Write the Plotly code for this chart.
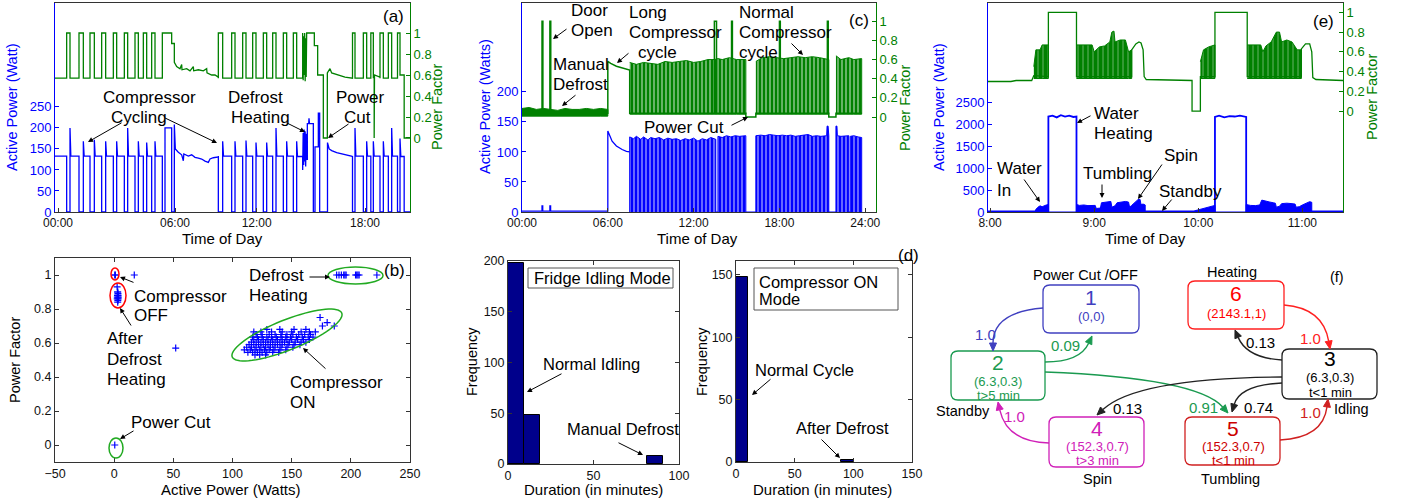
import math
import plotly.graph_objects as go

W, H = 1401, 502
FONT = "Liberation Sans, Arial, Helvetica, sans-serif"
BLUE = "#0000FF"
GREEN = "#008000"

# ---------------------------------------------------------------- data (a)
# fridge trace, axis in record hours; compressor OFF intervals
a_tick_pos = [0.18, 7.2, 12.1, 18.6]
a_tick_text = ["00:00", "06:00", "12:00", "18:00"]
a_off_start = [0.70, 1.44, 2.10, 2.80, 3.50, 4.16, 4.80, 5.30, 5.80, 6.44, 9.80, 10.60,
               11.26, 11.86, 12.50, 13.06, 13.70, 14.30, 17.85, 18.50, 18.95, 19.50, 20.00, 20.55]
a_off_end = [0.90, 1.70, 2.36, 3.04, 3.70, 4.36, 5.00, 5.50, 6.00, 6.60, 10.06, 10.80,
             11.46, 12.06, 12.70, 13.26, 13.90, 14.50, 18.00, 18.70, 19.10, 19.70, 20.20, 20.70]
a_spike = [200, 168, 172, 168, 168, 200, 168, 165, 168, 200, 168, 168,
           170, 165, 165, 200, 168, 168, 200, 168, 168, 168, 200, 175]
a_base_power = 133
a_on_pf = 0.57
a_power_body = {
    9: [(6.60, 200), (7.00, 200), (7.00, 0), (7.16, 0), (7.16, 208), (7.22, 150), (7.40, 142),
        (7.60, 136), (7.70, 122), (7.73, 138), (8.00, 133), (8.20, 136), (8.40, 130), (8.60, 128),
        (8.80, 126), (9.00, 121), (9.20, 118), (9.30, 126), (9.50, 129), (9.80, 131)],
    17: [(14.50, 168), (14.55, 132), (14.86, 132), (14.86, 100), (14.89, 188), (14.92, 112),
         (14.95, 196), (14.98, 120), (15.01, 192), (15.04, 108), (15.07, 186), (15.10, 125),
         (15.14, 125), (15.14, 210), (15.22, 210), (15.24, 223), (15.27, 210), (15.50, 210),
         (15.50, 0), (15.60, 0), (15.60, 155), (15.80, 155), (15.80, 235), (15.88, 235),
         (15.88, 0), (16.35, 0), (16.35, 165), (16.45, 150), (16.60, 146), (16.90, 141),
         (17.20, 138), (17.50, 134), (17.85, 132)],
    23: [(20.70, 175), (20.75, 132), (20.95, 132), (20.95, 0), (21.30, 0)],
}
a_pf_body = {
    9: [(6.60, 1.0), (7.00, 1.0), (7.00, 0.9), (7.16, 0.9), (7.16, 0.72), (7.30, 0.68), (7.50, 0.66),
        (7.60, 0.70), (7.62, 0.65), (7.90, 0.66), (8.10, 0.64), (8.30, 0.68), (8.32, 0.64),
        (8.60, 0.65), (8.90, 0.64), (9.10, 0.66), (9.12, 0.62), (9.40, 0.60), (9.60, 0.60), (9.80, 0.58)],
    17: [(14.50, 0.57), (14.86, 0.57), (14.86, 1.0), (14.89, 0.55), (14.92, 0.97), (14.95, 0.60),
         (14.98, 1.0), (15.01, 0.54), (15.04, 0.95), (15.07, 0.58), (15.10, 1.0), (15.56, 1.0),
         (15.56, 0.88), (15.76, 0.88), (15.76, 0.60), (16.10, 0.60), (16.10, 0.0), (16.34, 0.0),
         (16.34, 0.62), (16.50, 0.66), (16.60, 0.62), (17.00, 0.60), (17.40, 0.58), (17.85, 0.57)],
    20: [(19.10, 0.57), (19.15, 0.60), (19.15, 0.0), (19.17, 0.0), (19.17, 0.60), (19.50, 0.58)],
    23: [(20.70, 0.60), (20.95, 0.60), (20.95, 0.0), (21.30, 0.0)],
}

# ---------------------------------------------------------------- data (c)
c_tick_pos = [0, 6, 12, 18, 24]
c_tick_text = ["00:00", "06:00", "12:00", "18:00", "24:00"]
c_idle_time = [0, 1.40, 1.40, 1.45, 1.45, 1.95, 1.95, 2.00, 2.00, 6.00, 6.00, 6.10, 6.30, 6.60, 7.00, 7.30, 7.53]
c_idle_power = [1.5, 1.5, 10, 10, 1.5, 1.5, 10, 10, 1.5, 1.5, 135, 130, 118, 110, 104, 101, 100]
c_on_time = [7.53, 7.53, 7.8, 8.0, 8.3, 8.5, 8.8, 9.0, 9.3, 9.6, 9.9, 10.2, 10.5, 10.8, 11.1, 11.4,
             11.7, 12.0, 12.3, 12.6, 12.9, 13.2, 13.55, 13.55, 13.70, 13.70, 14.0, 14.3, 14.6, 14.9,
             15.2, 15.65, 15.65, 16.35, 16.35, 16.7, 17.0, 17.3, 17.6, 17.9, 18.2, 18.5, 18.8, 19.1,
             19.4, 19.7, 20.0, 20.3, 20.6, 20.9, 21.2, 21.30, 21.33, 21.40, 21.45, 21.45, 21.95,
             21.95, 22.02, 22.05, 22.3, 22.6, 22.85, 22.85, 22.95, 22.95, 23.2, 23.5, 23.75, 23.75]
c_on_power = [0, 125, 122, 126, 121, 125, 120, 124, 122, 124, 120, 123, 121, 122, 119, 122,
              120, 123, 118, 122, 120, 124, 121, 0, 0, 126, 124, 127, 125, 127,
              126, 127, 0, 0, 127, 128, 127, 129, 128, 127, 128, 127, 128, 126,
              127, 128, 129, 126, 127, 126, 127, 127, 143, 143, 127, 0, 0,
              143, 143, 127, 126, 127, 127, 0, 0, 126, 127, 125, 124, 0]
c_pf_time = [0.00, 1.40, 1.40, 1.46, 1.46, 1.95, 1.95, 2.01, 2.01, 6.00, 6.00, 6.20, 6.60, 7.00,
             7.53, 7.53, 13.45, 13.45, 13.60, 13.60, 14.65, 14.65, 14.71, 14.71, 15.65, 15.65,
             16.35, 16.35, 18.00, 18.00, 18.06, 18.06, 21.35, 21.35, 21.41, 21.41, 21.45, 21.45,
             21.95, 21.95, 23.75]
c_pf_value = [0.04, 0.04, 1.0, 1.0, 0.04, 0.04, 1.0, 1.0, 0.04, 0.04, 0.58, 0.56, 0.53, 0.51,
              0.49, 0.04, 0.04, 1.0, 1.0, 0.04, 0.04, 1.0, 1.0, 0.04, 0.04, 0.0,
              0.0, 0.04, 0.04, 1.0, 1.0, 0.04, 0.04, 1.0, 1.0, 0.04, 0.04, 0.0,
              0.0, 0.04, 0.04]
c_idle_pf_time = [0, 0.5, 1.0, 1.5, 2.0, 2.5, 3.0, 3.5, 4.0, 4.5, 5.0, 5.5, 6.0]
c_idle_pf_top = [0.09, 0.10, 0.08, 0.09, 0.08, 0.07, 0.09, 0.08, 0.08, 0.09, 0.08, 0.09, 0.08]
c_idle_pf_low = 0.01
c_band1_time = [7.53, 8.0, 8.5, 9.0, 9.5, 10.0, 10.5, 11.0, 11.5, 12.0, 12.5, 13.0, 13.45, 13.7, 14.0, 14.5, 15.0, 15.65]
c_band1_top = [0.57, 0.55, 0.57, 0.56, 0.55, 0.58, 0.57, 0.58, 0.59, 0.57, 0.58, 0.60, 0.60, 0.61, 0.60, 0.62, 0.60, 0.60]
c_band2_time = [16.35, 16.8, 17.3, 17.8, 18.3, 18.8, 19.3, 19.8, 20.3, 20.8, 21.3, 21.45]
c_band2_top = [0.58, 0.62, 0.63, 0.62, 0.61, 0.62, 0.63, 0.62, 0.63, 0.62, 0.60, 0.60]
c_band3_time = [21.95, 22.3, 22.85, 23.2, 23.75]
c_band3_top = [0.64, 0.60, 0.62, 0.60, 0.61]
c_band_low = 0.03

# ---------------------------------------------------------------- data (e)
e_tick_pos = [8, 9, 10, 11]
e_tick_text = ["8:00", "9:00", "10:00", "11:00"]
e_power_time = [7.98, 8.20, 8.43, 8.56, 8.56, 8.60, 8.64, 8.68, 8.72, 8.76, 8.80, 8.83, 8.83,
                9.95, 10.16, 10.16, 10.20, 10.25, 10.30, 10.35, 10.40, 10.46, 10.46, 11.39]
e_power_value = [12, 14, 15, 15, 2170, 2190, 2150, 2200, 2170, 2190, 2160, 2170, 12,
                 14, 14, 2160, 2190, 2150, 2180, 2170, 2190, 2160, 12, 12]
e_motor_time = [8.43, 8.44, 8.46, 8.48, 8.50, 8.52, 8.54, 8.56, 8.56,
                8.83, 8.83, 8.86, 8.90, 8.94, 8.98, 9.01, 9.02, 9.06, 9.07, 9.10, 9.13, 9.16, 9.17,
                9.20, 9.22, 9.26, 9.30, 9.33, 9.34, 9.36, 9.39, 9.42, 9.44, 9.45, 9.47, 9.49, 9.49,
                9.95, 9.97, 10.00, 10.04, 10.08, 10.12, 10.16, 10.16,
                10.46, 10.46, 10.50, 10.55, 10.59, 10.61, 10.64, 10.68, 10.72, 10.74, 10.75, 10.78,
                10.80, 10.85, 10.90, 10.93, 10.94, 10.97, 11.00, 11.04, 11.07, 11.09, 11.09]
e_motor_power = [0, 60, 110, 140, 120, 150, 160, 170, 0,
                 0, 170, 150, 160, 145, 155, 150, 80, 90, 210, 220, 235, 240, 110,
                 140, 210, 230, 240, 225, 110, 150, 220, 280, 290, 170, 180, 160, 0,
                 0, 30, 50, 80, 110, 130, 150, 0,
                 0, 170, 150, 145, 160, 270, 260, 230, 210, 200, 110, 130,
                 190, 200, 190, 180, 110, 120, 160, 200, 235, 220, 0]
e_pf_time = [7.98, 8.20, 8.25, 8.40, 8.42, 8.56, 8.56, 8.83, 8.83, 9.36, 9.36, 9.40, 9.43, 9.45,
             9.47, 9.48, 9.50, 9.94, 9.94, 10.02, 10.02, 10.16, 10.16, 10.47, 10.47, 10.99, 10.99,
             11.03, 11.07, 11.09, 11.10, 11.13, 11.39]
e_pf_value = [0.30, 0.30, 0.31, 0.31, 0.36, 0.35, 1.0, 1.0, 0.35, 0.35, 0.62, 0.68, 0.70, 0.69,
              0.62, 0.35, 0.32, 0.31, 0.0, 0.0, 0.35, 0.35, 1.0, 1.0, 0.35, 0.35, 0.63,
              0.68, 0.68, 0.60, 0.34, 0.32, 0.31]
e_band_time = [[8.42, 8.44, 8.48, 8.50, 8.56],
               [8.83, 8.98, 9.00, 9.05, 9.10, 9.15, 9.17, 9.19, 9.20, 9.25, 9.30, 9.33, 9.36],
               [10.02, 10.05, 10.10, 10.16],
               [10.47, 10.60, 10.62, 10.65, 10.70, 10.75, 10.78, 10.80, 10.85, 10.90, 10.95, 10.99]]
e_band_top = [[0.45, 0.62, 0.62, 0.67, 0.67],
              [0.67, 0.67, 0.60, 0.65, 0.66, 0.70, 0.80, 0.81, 0.70, 0.72, 0.72, 0.60, 0.62],
              [0.50, 0.62, 0.65, 0.67],
              [0.67, 0.67, 0.60, 0.66, 0.70, 0.80, 0.80, 0.70, 0.72, 0.70, 0.62, 0.62]]
e_band_low = 0.33

# ---------------------------------------------------------------- data (b)
b_off_power = [0.5, 1.0, 17.0]
b_off_pf = [1.0, 1.0, 1.0]
b_after_power = [2.5, 3.0, 3.2, 2.8, 3.5, 2.6, 3.1, 3.3, 2.9, 3.0, 3.4, 2.7]
b_after_pf = [0.93, 0.90, 0.89, 0.88, 0.87, 0.86, 0.85, 0.88, 0.90, 0.84, 0.86, 0.87]
b_misc_power = [52.0, 0.5]
b_misc_pf = [0.57, 0.0]
b_defrost_power = [188, 190, 192, 194, 195, 196, 204, 205, 206, 207, 222]
b_defrost_pf = [1.0, 1.0, 1.0, 1.0, 1.0, 1.0, 1.0, 1.0, 1.0, 1.0, 1.0]
b_on_rows = {
    0.530: [119, 123, 128],
    0.545: [113, 117, 121, 125, 129, 134, 139],
    0.560: [110, 115, 119, 123, 127, 131, 135, 140, 145],
    0.575: [112, 116, 120, 124, 128, 132, 136, 141, 146, 151],
    0.590: [114, 118, 122, 126, 130, 134, 138, 142, 147, 152, 157],
    0.605: [116, 120, 124, 128, 132, 136, 140, 144, 148, 153, 158, 162],
    0.620: [118, 122, 126, 130, 134, 138, 142, 146, 150, 155, 160, 165],
    0.635: [117, 121, 125, 129, 133, 137, 141, 145, 149, 154, 159, 164, 168],
    0.650: [120, 125, 131, 136, 141, 146, 151, 156, 161, 166],
    0.665: [118, 124, 133, 142, 150, 158, 165, 170],
    0.680: [129, 140, 152, 162],
    0.700: [176, 186],
    0.720: [180],
    0.750: [174],
}

# ---------------------------------------------------------------- data (d)
d1_centers = [4.65, 13.95, 86.05]
d1_counts = [198, 48, 8]
d1_width = 9.3
d2_centers = [5.25, 94.95]
d2_counts = [148, 2]
d2_width = 10.5


# ---------------------------------------------------------------- helpers
def xdom(l, r):
    return [l / W, r / W]


def ydom(t, b):
    return [1 - b / H, 1 - t / H]


def P(x, y):
    return x / W, 1 - y / H


def build_a():
    pt, pp, gt, gp = [0.0], [a_base_power], [0.0], [a_on_pf]
    for i, (s, e, sp) in enumerate(zip(a_off_start, a_off_end, a_spike)):
        pt += [s, s, e]
        pp += [a_base_power, 0, 0]
        body = a_power_body.get(i, [(e, sp), (e + 0.05, a_base_power)])
        pt += [b[0] for b in body]
        pp += [b[1] for b in body]
        gt += [s, s, e]
        gp += [a_on_pf, 1.0, 1.0]
        gbody = a_pf_body.get(i, [(e, a_on_pf)])
        gt += [b[0] for b in gbody]
        gp += [b[1] for b in gbody]
    return pt, pp, gt, gp


traces = []
# (a)
a_t, a_p, ag_t, ag_p = build_a()
traces.append(go.Scatter(x=a_t, y=a_p, mode="lines", line=dict(color=BLUE, width=1.3),
                         xaxis="x", yaxis="y"))
traces.append(go.Scatter(x=ag_t, y=ag_p, mode="lines", line=dict(color=GREEN, width=1.3),
                         xaxis="x", yaxis="y2"))

# (c)
traces.append(go.Scatter(x=c_idle_time, y=c_idle_power, mode="lines", line=dict(color=BLUE, width=1.3),
                         xaxis="x2", yaxis="y3"))
traces.append(go.Scatter(x=c_on_time, y=c_on_power, mode="lines", line=dict(color=BLUE, width=1),
                         fill="tozeroy", fillcolor="white",
                         fillpattern=dict(shape="|", fgcolor=BLUE, bgcolor="white", size=4,
                                          solidity=0.8, fgopacity=1),
                         xaxis="x2", yaxis="y3"))
traces.append(go.Scatter(x=c_idle_pf_time + c_idle_pf_time[::-1],
                         y=c_idle_pf_top + [c_idle_pf_low] * len(c_idle_pf_time), mode="lines",
                         fill="toself", fillcolor=GREEN, line=dict(color=GREEN, width=1),
                         xaxis="x2", yaxis="y4"))
for bt, btop in [(c_band1_time, c_band1_top), (c_band2_time, c_band2_top), (c_band3_time, c_band3_top)]:
    traces.append(go.Scatter(x=bt + bt[::-1], y=btop + [c_band_low] * len(bt), mode="lines",
                             fill="toself", fillcolor="white",
                             fillpattern=dict(shape="|", fgcolor=GREEN, bgcolor="white", size=4,
                                              solidity=0.8, fgopacity=1),
                             line=dict(color=GREEN, width=1), xaxis="x2", yaxis="y4"))
traces.append(go.Scatter(x=c_pf_time, y=c_pf_value, mode="lines", line=dict(color=GREEN, width=1.5),
                         xaxis="x2", yaxis="y4"))

# (e)
traces.append(go.Scatter(x=e_motor_time, y=e_motor_power, mode="lines", fill="tozeroy",
                         fillcolor=BLUE, line=dict(color=BLUE, width=1), xaxis="x3", yaxis="y5"))
traces.append(go.Scatter(x=e_power_time, y=e_power_value, mode="lines", line=dict(color=BLUE, width=1.8),
                         xaxis="x3", yaxis="y5"))
for bt, btop in zip(e_band_time, e_band_top):
    traces.append(go.Scatter(x=bt + bt[::-1], y=btop + [e_band_low] * len(bt), mode="lines",
                             fill="toself", fillcolor="white",
                             fillpattern=dict(shape="|", fgcolor=GREEN, bgcolor="white", size=5,
                                              solidity=0.92, fgopacity=1),
                             line=dict(color=GREEN, width=1), xaxis="x3", yaxis="y6"))
traces.append(go.Scatter(x=e_pf_time, y=e_pf_value, mode="lines", line=dict(color=GREEN, width=1.3),
                         xaxis="x3", yaxis="y6"))

# (b)
b_on_power = [w for pf in b_on_rows for w in b_on_rows[pf]]
b_on_pf = [pf for pf in b_on_rows for w in b_on_rows[pf]]
bx = b_off_power + b_after_power + b_misc_power + b_defrost_power + b_on_power
by = b_off_pf + b_after_pf + b_misc_pf + b_defrost_pf + b_on_pf
traces.append(go.Scatter(x=bx, y=by, mode="markers",
                         marker=dict(symbol="cross-thin", size=5, color=BLUE, line=dict(color=BLUE, width=1.2)),
                         xaxis="x4", yaxis="y7"))

# (d)
traces.append(go.Bar(x=d1_centers, y=d1_counts, width=[d1_width] * len(d1_centers),
                     marker=dict(color="#00008B", line=dict(color="black", width=1)),
                     xaxis="x5", yaxis="y8"))
traces.append(go.Bar(x=d2_centers, y=d2_counts, width=[d2_width] * len(d2_centers),
                     marker=dict(color="#00008B", line=dict(color="black", width=1)),
                     xaxis="x6", yaxis="y9"))

fig = go.Figure(data=traces)

TF = dict(family=FONT, size=12.5, color="#111")
TF_TOP = dict(family=FONT, size=12, color="#111")


def axis(**kw):
    base = dict(showgrid=False, zeroline=False, showline=True, ticks="inside", ticklen=4,
                tickfont=TF, linewidth=1, linecolor="#333", tickcolor="#333", automargin=False)
    base.update(kw)
    return base


def left_y(dom, anchor, rng, vals):
    return axis(domain=ydom(*dom), anchor=anchor, range=rng, tickvals=vals, linecolor=BLUE,
                tickcolor=BLUE, tickfont=dict(family=FONT, size=13, color=BLUE))


def right_y(over, anchor, rng):
    return axis(overlaying=over, side="right", anchor=anchor, range=rng,
                tickvals=[0, 0.2, 0.4, 0.6, 0.8, 1], ticktext=["0", "0.2", "0.4", "0.6", "0.8", "1"],
                linecolor=GREEN, tickcolor=GREEN, tickfont=dict(family=FONT, size=13, color=GREEN))


pf_ticks = [0, 0.2, 0.4, 0.6, 0.8, 1]
pf_text = ["0", "0.2", "0.4", "0.6", "0.8", "1"]
fig.update_layout(
    width=W, height=H, margin=dict(l=0, r=0, t=0, b=0, pad=0, autoexpand=False),
    plot_bgcolor="white", paper_bgcolor="white", showlegend=False, font=dict(family=FONT), bargap=0,
    xaxis=axis(domain=xdom(55, 410), anchor="y", range=[0, 21.3], tickvals=a_tick_pos,
               ticktext=a_tick_text, mirror=True, tickfont=TF_TOP),
    yaxis=left_y((3, 212), "x", [0, 497], [0, 50, 100, 150, 200, 250]),
    yaxis2=right_y("y", "x", [-0.705, 1.286]),
    xaxis2=axis(domain=xdom(522, 876), anchor="y3", range=[0, 24.75], tickvals=c_tick_pos,
                ticktext=c_tick_text, mirror=True, tickfont=TF_TOP),
    yaxis3=left_y((3, 212), "x2", [0, 348], [0, 50, 100, 150, 200]),
    yaxis4=right_y("y3", "x2", [-0.99, 1.19]),
    xaxis3=axis(domain=xdom(988, 1343), anchor="y5", range=[7.98, 11.39], tickvals=e_tick_pos,
                ticktext=e_tick_text, mirror=True, tickfont=TF_TOP),
    yaxis5=left_y((3, 212), "x3", [0, 4750], [0, 500, 1000, 1500, 2000, 2500]),
    yaxis6=right_y("y5", "x3", [-1.02, 1.094]),
    xaxis4=axis(domain=xdom(55, 410), anchor="y7", range=[-50, 250], dtick=50, mirror="ticks"),
    yaxis7=axis(domain=ydom(258, 462), anchor="x4", range=[-0.1, 1.1], tickvals=pf_ticks,
                ticktext=pf_text, mirror="ticks"),
    xaxis5=axis(domain=xdom(508, 679), anchor="y8", range=[0, 100], tickvals=[0, 50, 100], mirror="ticks"),
    yaxis8=axis(domain=ydom(261, 464), anchor="x5", range=[0, 200], dtick=50, mirror="ticks"),
    xaxis6=axis(domain=xdom(736, 912), anchor="y9", range=[0, 150], dtick=50, mirror="ticks"),
    yaxis9=axis(domain=ydom(261, 462), anchor="x6", range=[0, 161], tickvals=[0, 50, 100, 150], mirror="ticks"),
)

ann = []
shapes = []


def txt(x, y, s, size=17, color="black", anchor="left", angle=0):
    X, Y = P(x, y)
    ann.append(dict(x=X, y=Y, xref="paper", yref="paper", text=s, showarrow=False,
                    xanchor=anchor, yanchor="middle", textangle=angle, borderpad=0,
                    font=dict(family=FONT, size=size, color=color)))


def ytitle(x, y, s, color="black", size=14.5):
    txt(x, y, s, size=size, color=color, anchor="center", angle=-90)


def arr(tx, ty, hx, hy, color="black"):
    X, Y = P(hx, hy)
    ann.append(dict(x=X, y=Y, xref="paper", yref="paper", ax=tx - hx, ay=ty - hy,
                    axref="pixel", ayref="pixel", text="", showarrow=True, arrowhead=2,
                    arrowsize=1, arrowwidth=1, arrowcolor=color, standoff=0, startstandoff=0))


# (a)
txt(102, 97, "Compressor"); txt(110, 117, "Cycling")
arr(123, 122, 88, 142); arr(163, 117, 217, 143)
txt(227, 97, "Defrost"); txt(230, 117, "Heating"); arr(285, 122, 305, 132)
txt(335, 97, "Power"); txt(343, 117, "Cut"); arr(350, 123, 328, 138)
txt(382, 17, "(a)")
txt(222, 238, "Time of Day", size=15, anchor="center")
ytitle(12, 107, "Active Power (Watt)", BLUE)
ytitle(437, 107, "Power Factor", GREEN)
# (c)
txt(570, 11, "Door"); txt(570, 31, "Open"); arr(568, 28, 553, 39)
txt(552, 64, "Manual"); txt(552, 85, "Defrost"); arr(577, 94, 562, 106)
txt(628, 13, "Long"); txt(628, 33, "Compressor"); txt(637, 52, "cycle"); arr(630, 52, 617, 63)
txt(738, 13, "Normal"); txt(738, 33, "Compressor"); txt(738, 52, "cycle"); arr(790, 42, 803, 55)
txt(643, 127, "Power Cut"); arr(730, 126, 748, 117)
txt(848, 21, "(c)")
txt(697, 238, "Time of Day", size=15, anchor="center")
ytitle(485, 107, "Active Power (Watts)", BLUE)
ytitle(905, 108, "Power Factor", GREEN)
# (e)
txt(996, 169, "Water"); txt(996, 190, "In"); arr(1023, 178, 1040, 202)
txt(1093, 113, "Water"); txt(1093, 133, "Heating"); arr(1092, 115, 1077, 123)
txt(1082, 173, "Tumbling"); arr(1102, 183, 1102, 198)
txt(1163, 156, "Spin"); arr(1163, 163, 1138, 199)
txt(1158, 191, "Standby"); arr(1173, 198, 1162, 211)
txt(1312, 22, "(e)")
txt(1145, 238, "Time of Day", size=15, anchor="center")
ytitle(939, 107, "Active Power (Watt)", BLUE)
ytitle(1372, 97, "Power Factor", GREEN)
# (b)
txt(248, 275, "Defrost"); txt(248, 295, "Heating"); arr(308, 277, 330, 277)
txt(383, 270, "(b)")
txt(133, 296, "Compressor"); txt(133, 315, "OFF"); arr(135, 283, 120, 277)
txt(106, 338, "After"); txt(106, 359, "Defrost"); txt(106, 379, "Heating"); arr(132, 327, 120, 308)
txt(289, 382, "Compressor"); txt(289, 402, "ON"); arr(327, 370, 303, 348)
txt(130, 422, "Power Cut"); arr(135, 430, 120, 439)
txt(230, 489, "Active Power (Watts)", size=15, anchor="center")
ytitle(15, 360, "Power Factor")
# (d)
x0, y0 = P(528, 268); x1, y1 = P(673, 288)
shapes.append(dict(type="rect", xref="paper", yref="paper", x0=x0, y0=y0, x1=x1, y1=y1,
                   line=dict(color="#555", width=1), fillcolor="white", layer="above"))
x0, y0 = P(754, 268); x1, y1 = P(898, 310)
shapes.append(dict(type="rect", xref="paper", yref="paper", x0=x0, y0=y0, x1=x1, y1=y1,
                   line=dict(color="#555", width=1), fillcolor="white", layer="above"))
txt(533, 278, "Fridge Idling Mode", size=16.5)
txt(542, 364, "Normal Idling", size=16.5); arr(563, 373, 527, 392)
txt(566, 429, "Manual Defrost", size=16.5); arr(617, 442, 643, 455)
txt(758, 282, "Compressor ON", size=16.5); txt(758, 299, "Mode", size=16.5)
txt(754, 370, "Normal Cycle", size=16.5); arr(772, 378, 752, 395)
txt(795, 428, "After Defrost", size=16.5); arr(820, 438, 840, 458)
txt(897, 255, "(d)")
txt(593, 489, "Duration (in minutes)", size=15, anchor="center")
txt(822, 489, "Duration (in minutes)", size=15, anchor="center")
ytitle(472, 362, "Frequency")
ytitle(702, 362, "Frequency")

# ellipses in (b)
for (l, t, r, b, col) in [(111, 268, 119, 280, "#FF0000"), (110, 283, 126, 308, "#FF0000"),
                          (109, 438, 123, 458, "#22AA22"), (328, 267, 383, 284, "#22AA22")]:
    X0, Y0 = P(l, b); X1, Y1 = P(r, t)
    shapes.append(dict(type="circle", xref="paper", yref="paper", x0=X0, y0=Y0, x1=X1, y1=Y1,
                       line=dict(color=col, width=1.5)))
cx, cy, sa, sb, ang = 287, 335, 59, 15, math.radians(21.8)
pts = []
for k in range(73):
    t = 2 * math.pi * k / 72
    ex = cx + sa * math.cos(t) * math.cos(ang) - sb * math.sin(t) * math.sin(ang)
    ey = cy - sa * math.cos(t) * math.sin(ang) - sb * math.sin(t) * math.cos(ang)
    X, Y = P(ex, ey)
    pts.append(f"{X:.5f},{Y:.5f}")
shapes.append(dict(type="path", xref="paper", yref="paper", path="M" + " L".join(pts) + " Z",
                   line=dict(color="#22AA22", width=1.5)))


# (f) state diagram
def rrect(l, t, r, b, col, rad=7):
    def p(x, y):
        X, Y = P(x, y)
        return f"{X:.5f},{Y:.5f}"
    path = (f"M{p(l + rad, t)} L{p(r - rad, t)} Q{p(r, t)} {p(r, t + rad)} L{p(r, b - rad)} "
            f"Q{p(r, b)} {p(r - rad, b)} L{p(l + rad, b)} Q{p(l, b)} {p(l, b - rad)} "
            f"L{p(l, t + rad)} Q{p(l, t)} {p(l + rad, t)} Z")
    shapes.append(dict(type="path", xref="paper", yref="paper", path=path,
                       line=dict(color=col, width=1.3), fillcolor="rgba(0,0,0,0)"))


def curve(s, c, e, col):
    def p(x, y):
        X, Y = P(x, y)
        return f"{X:.5f},{Y:.5f}"
    dx, dy = e[0] - c[0], e[1] - c[1]
    n = math.hypot(dx, dy)
    dx, dy = dx / n, dy / n
    L, w = 8, 3.5
    bx_, by_ = e[0] - dx * L, e[1] - dy * L
    shapes.append(dict(type="path", xref="paper", yref="paper",
                       path=f"M{p(*s)} Q{p(*c)} {p(bx_, by_)}", line=dict(color=col, width=1.4)))
    shapes.append(dict(type="path", xref="paper", yref="paper",
                       path=f"M{p(*e)} L{p(bx_ - dy * w, by_ + dx * w)} L{p(bx_ + dy * w, by_ - dx * w)} Z",
                       line=dict(color=col, width=1), fillcolor=col))


C1, C2, C6, C3, C4, C5 = "#4040C0", "#1A9A50", "#FF2020", "#222222", "#D020B8", "#D02020"
rrect(1043, 285, 1139, 333, C1)
rrect(951, 351, 1045, 400, C2)
rrect(1188, 281, 1284, 329, C6)
rrect(1282, 349, 1377, 399, C3)
rrect(1049, 417, 1144, 467, C4)
rrect(1185, 417, 1280, 465, C5)
curve((1043, 308), (993, 312), (993, 351), C1)
curve((1045, 362), (1080, 362), (1092, 336), C2)
curve((1045, 372), (1197, 378), (1228, 413), C2)
curve((1282, 383), (1240, 385), (1232, 412), C3)
curve((1282, 377), (1137, 378), (1097, 415), C3)
curve((1282, 360), (1247, 358), (1235, 330), C3)
curve((1284, 305), (1323, 308), (1330, 349), C6)
curve((1280, 440), (1323, 438), (1328, 399), C5)
curve((1049, 443), (1007, 442), (998, 402), C4)

txt(1091, 297, "1", 21, C1, "center"); txt(1091, 316, "(0,0)", 13, C1, "center")
txt(998, 362, "2", 21, C2, "center"); txt(998, 381, "(6.3,0.3)", 13, C2, "center")
txt(998, 395, "t>5 min", 13, C2, "center")
txt(1236, 293, "6", 21, "#FF0000", "center"); txt(1236, 313, "(2143.1,1)", 13, "#FF0000", "center")
txt(1330, 358, "3", 21, "black", "center"); txt(1330, 377, "(6.3,0.3)", 13, "black", "center")
txt(1330, 392, "t<1 min", 13, "black", "center")
txt(1097, 428, "4", 21, C4, "center"); txt(1097, 446, "(152.3,0.7)", 13, C4, "center")
txt(1097, 460, "t>3 min", 13, C4, "center")
txt(1233, 428, "5", 21, "#CC0000", "center"); txt(1233, 446, "(152.3,0.7)", 13, "#CC0000", "center")
txt(1233, 460, "t<1 min", 13, "#CC0000", "center")
txt(1085, 275, "Power Cut /OFF", 14.5, "black", "center")
txt(1232, 272, "Heating", 14.5, "black", "center")
txt(1337, 277, "(f)", 14.5, "black", "center")
txt(963, 411, "Standby", 14.5, "black", "center")
txt(1351, 409, "Idling", 14.5, "black", "center")
txt(1097, 479, "Spin", 14.5, "black", "center")
txt(1230, 479, "Tumbling", 14.5, "black", "center")
txt(985, 334, "1.0", 15, C1, "center")
txt(1065, 345, "0.09", 15, C2, "center")
txt(1260, 342, "0.13", 15, "black", "center")
txt(1310, 338, "1.0", 15, "#FF2020", "center")
txt(1127, 408, "0.13", 15, "black", "center")
txt(1203, 407, "0.91", 15, C2, "center")
txt(1258, 407, "0.74", 15, "black", "center")
txt(1310, 412, "1.0", 15, C5, "center")
txt(1015, 416, "1.0", 15, C4, "center")

fig.update_layout(annotations=ann, shapes=shapes)
fig.write_html("out.html", config={"displayModeBar": False},
               post_script="document.body.style.margin='0px';document.body.style.overflow='hidden';")
